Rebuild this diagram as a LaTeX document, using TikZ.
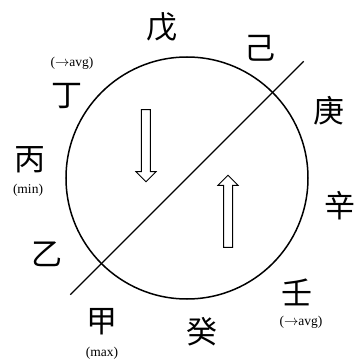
\documentclass[tikz,border=0pt]{standalone}
\usepackage{fontspec}
\setmainfont{Liberation Serif}
\newfontfamily\cjk{Noto Sans CJK SC}
\usetikzlibrary{shapes.arrows}

\tikzset{
  stem/.style={font=\cjk\fontsize{31}{31}\selectfont, inner sep=0pt},
  note/.style={font=\fontsize{13.5}{14}\selectfont, inner sep=0pt},
  flow/.style={draw, single arrow, line width=1pt, inner sep=4pt,
    minimum height=72pt, single arrow head extend=5.5pt, single arrow tip angle=90}
}

\begin{document}
\begin{tikzpicture}[x=1pt,y=1pt]
 \useasboundingbox (-187,-183) rectangle (171,178);

 \draw[line width=1.5pt] (0,0) circle (121);
 \draw[line width=1.1pt] (-135:165)--(45:165);

 \node[flow, rotate=-90] (down) at (-41,34.5) {};
 \node[flow, rotate=90] (up) at (41,-35.5) {};

 % ten stems round the circle
 \foreach \p/\c [count=\i] in {{(-85,-144)}/甲, {(-140,-76)}/乙, {(-157,18)}/丙,
   {(-120,82)}/丁, {(-25,151)}/戊, {(73,130)}/己, {(142,67)}/庚,
   {(153,-28)}/辛, {(110,-114)}/壬, {(15,-154)}/癸}
   \node[stem] (s\i) at \p {\c};

 \node[note] (max) at (-85,-175) {(max)};
 \node[note] (min) at (-159,-12) {(min)};
 \node[note] (avgA) at (-115,115) {($\rightarrow$avg)};
 \node[note] (avgB) at (114,-144) {($\rightarrow$avg)};
\end{tikzpicture}
\end{document}
